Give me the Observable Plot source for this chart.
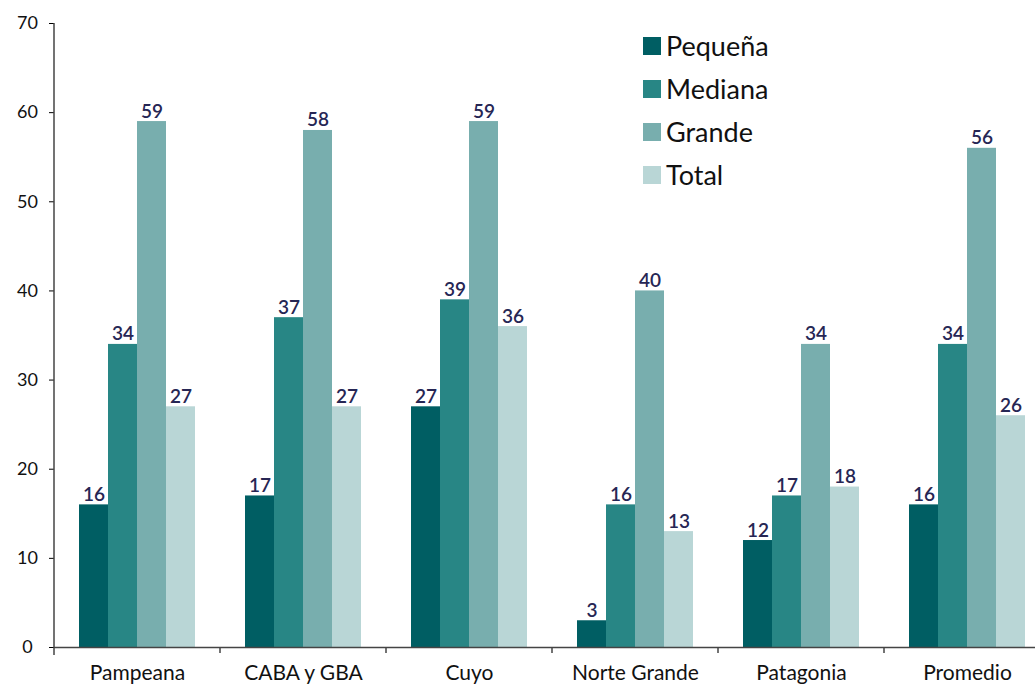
<!DOCTYPE html>
<html>
<head>
<meta charset="utf-8">
<script src="https://cdn.jsdelivr.net/npm/d3@7"></script>
<script src="https://cdn.jsdelivr.net/npm/@observablehq/plot@0.6"></script>
<style>
  html, body { margin: 0; padding: 0; background: #fff; }
  #wrap { position: relative; width: 1035px; height: 686px; overflow: hidden; font-family: Lato, "Open Sans", sans-serif; }
  #legend { position: absolute; left: 643px; top: 24px; }
  .li { display: flex; align-items: center; height: 43px; font-size: 27px; color: #111; }
  .sw { width: 18px; height: 18px; margin-right: 5px; }
</style>
</head>
<body>
<div id="wrap"><div id="legend"></div></div>
<script>
const regions = ["Pampeana", "CABA y GBA", "Cuyo", "Norte Grande", "Patagonia", "Promedio"];
const series = ["Pequeña", "Mediana", "Grande", "Total"];
const pequena = [16, 17, 27, 3, 12, 16];
const mediana = [34, 37, 39, 16, 17, 34];
const grande  = [59, 58, 59, 40, 34, 56];
const total   = [27, 27, 36, 13, 18, 26];
const colors  = ["#005E63", "#288685", "#78AEAE", "#B9D6D6"];
const yTicks  = [0, 10, 20, 30, 40, 50, 60, 70];

const cols = [pequena, mediana, grande, total];
const data = [];
regions.forEach((r, i) => series.forEach((s, j) => data.push({region: r, series: s, value: cols[j][i]})));

const plot = Plot.plot({
  width: 1035,
  height: 686,
  marginTop: 23,
  marginBottom: 39,
  marginLeft: 53,
  marginRight: -16,
  style: {fontFamily: "Lato, 'Open Sans', sans-serif", background: "white", overflow: "visible"},
  fx: {domain: regions, padding: 0, label: null},
  x: {domain: series, paddingInner: 0, paddingOuter: 0.77, axis: null},
  y: {domain: [0, 70], label: null},
  color: {domain: series, range: colors},
  marks: [
    Plot.barY(data, {fx: "region", x: "series", y: "value", fill: "series"}),
    Plot.ruleY([0], {stroke: "#444", strokeWidth: 1.5}),
    Plot.text(data, {fx: "region", x: "series", y: "value", text: d => String(d.value), lineAnchor: "bottom", dy: -4, fill: "#262654", fontSize: 19, fontWeight: 600}),
    Plot.axisY({ticks: yTicks, tickSize: 5, tickPadding: 22, textAnchor: "middle", fontSize: 18, fill: "#111", label: null}),
    Plot.axisFx({anchor: "bottom", tickSize: 0, tickPadding: 18, fontSize: 21, fill: "#111", label: null})
  ]
});

document.getElementById("wrap").prepend(plot);

// y-axis line and group separators using the plot's scales
const svg = d3.select(plot);
const y = plot.scale("y");
const fx = plot.scale("fx");
const y0 = y.apply(0), y70 = y.apply(70);
const fxLeft = fx.apply(regions[0]);
svg.append("line")
  .attr("x1", fxLeft).attr("x2", fxLeft)
  .attr("y1", y70).attr("y2", y0 + 8)
  .attr("stroke", "#444").attr("stroke-width", 1.5);
regions.slice(1).forEach(r => {
  const x = fx.apply(r);
  svg.append("line")
    .attr("x1", x).attr("x2", x)
    .attr("y1", y0).attr("y2", y0 + 6)
    .attr("stroke", "#444").attr("stroke-width", 1.5);
});

// legend
const color = plot.scale("color");
const leg = d3.select("#legend");
series.forEach(s => {
  const row = leg.append("div").attr("class", "li");
  row.append("div").attr("class", "sw").style("background", color.apply(s));
  row.append("span").text(s);
});
</script>
</body>
</html>
